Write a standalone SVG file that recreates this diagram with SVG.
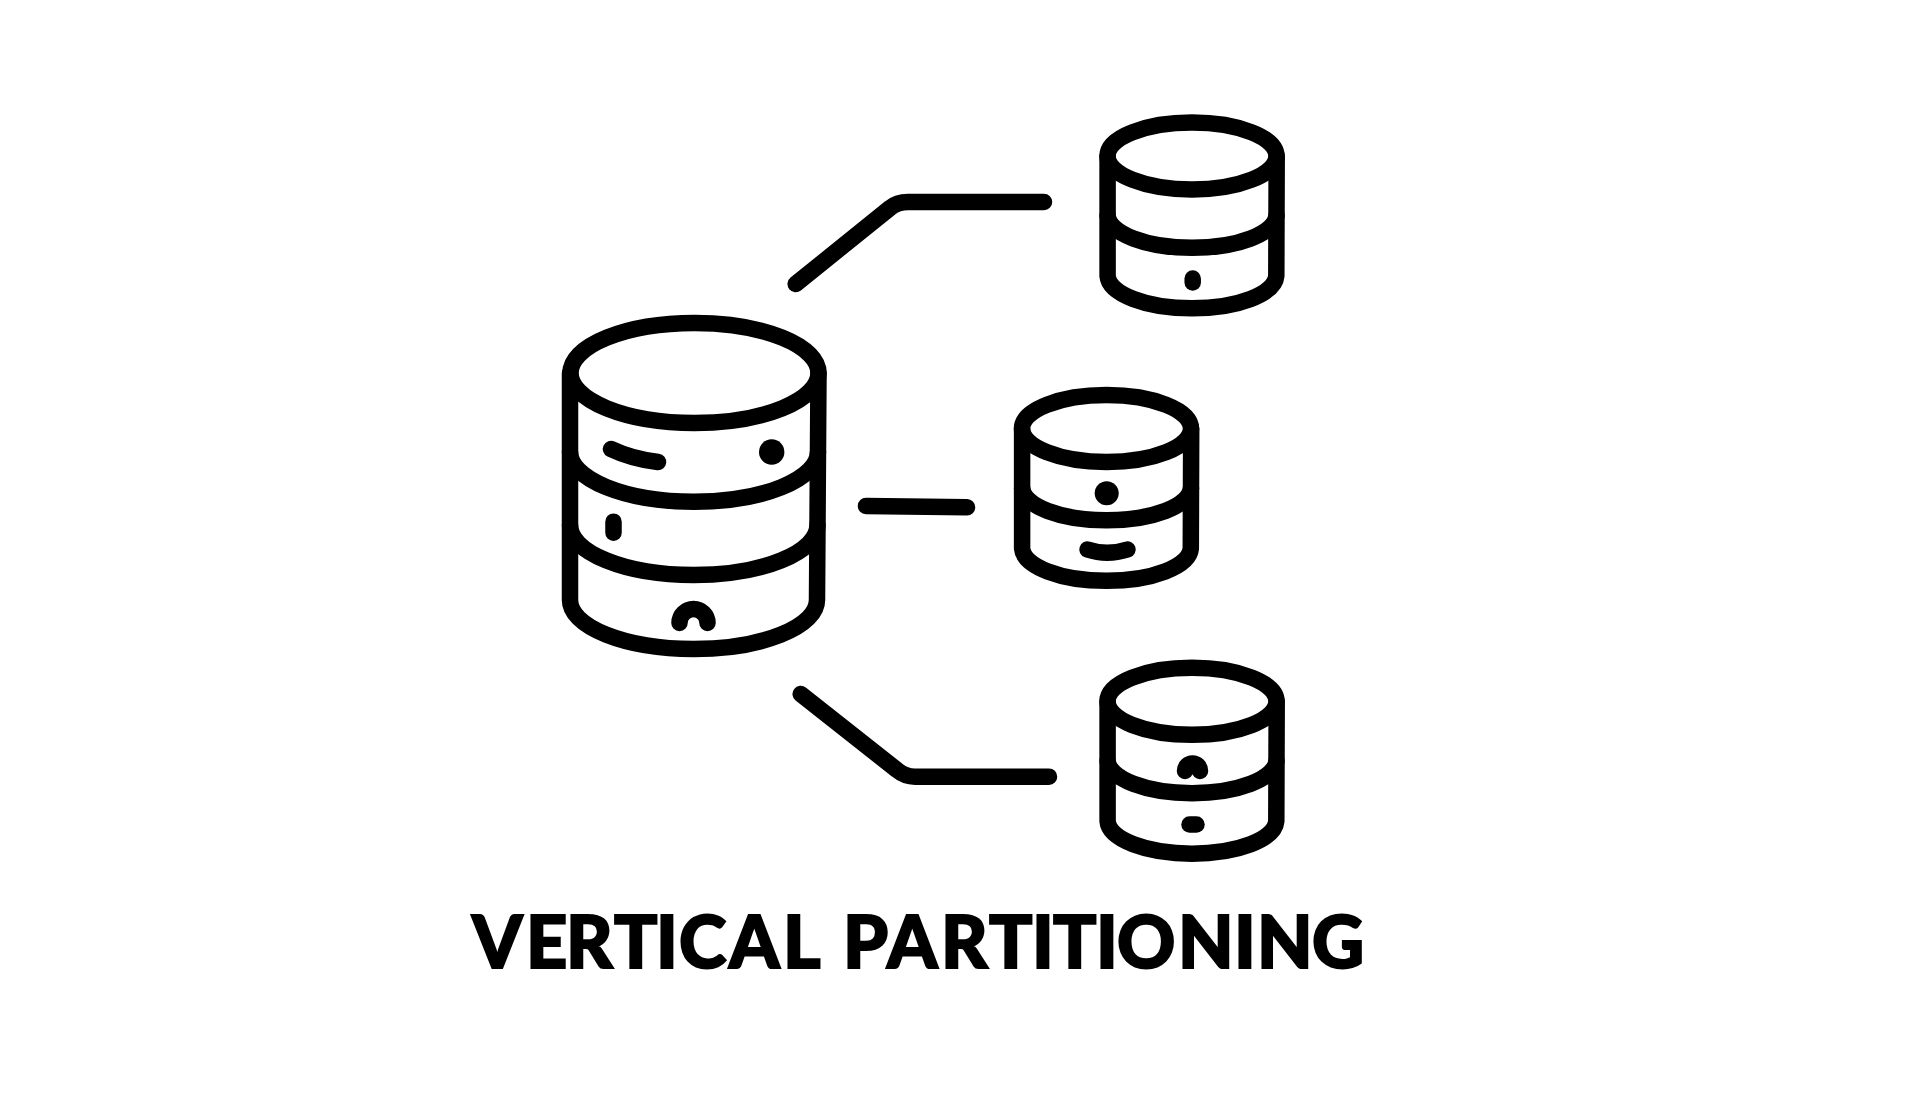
<svg xmlns="http://www.w3.org/2000/svg" width="1920" height="1100" viewBox="0 0 1920 1100">
<style>
.s{fill:none;stroke:#000;stroke-linecap:round;stroke-linejoin:round}
.b{stroke-width:16.5}
.t{font-family:Lato,"Liberation Sans",sans-serif;font-weight:900;font-size:72px;fill:#000;stroke:#000;stroke-width:2;stroke-linejoin:miter}
</style>
<defs>
<g id="small">
<ellipse class="s b" cx="1192" cy="156" rx="84.5" ry="33.5"/>
<path class="s b" d="M1107.6 156V276A84.4 33.500 0 0 0 1276.300 276L1276.700 156"/>
<path class="s b" d="M1107.6 215.500A84.500 33.500 0 0 0 1276.500 215.500"/>
</g>
</defs>
<rect width="1920" height="1100" fill="#fff"/>
<g id="connectors">
<path class="s b" d="M795.700 284L890 208Q897 202 908 202H1044"/>
<path class="s b" d="M866 506L967 507.300"/>
<path class="s b" d="M800.700 694L897 770Q905 776.700 915 776.700H1049"/>
</g>
<g id="db-main">
<ellipse class="s b" cx="694.5" cy="373" rx="124" ry="50"/>
<path class="s b" d="M570 373V600A123.500 49 0 0 0 817 600L818.500 373"/>
<path class="s b" d="M570 451.700A124 50 0 0 0 818 451.700"/>
<path class="s b" d="M570 525A123.700 50 0 0 0 817.500 525"/>
<path class="s b" d="M611 449Q632 459 658 462"/>
<circle cx="771.7" cy="452" r="12.7"/>
<path class="s b" d="M613.500 521.700V532.700"/>
<path class="s b" d="M679.500 623A14 14 0 0 1 707.500 623"/>
</g>
<g id="db-top">
<use href="#small"/>
<path class="s b" d="M1192.700 278.500V282.500"/>
</g>
<g id="db-middle">
<use href="#small" x="-85.5" y="272.500"/>
<circle cx="1106.700" cy="493.300" r="12"/>
<path class="s b" d="M1087.500 549.500Q1107 556 1127.500 549.500"/>
</g>
<g id="db-bottom">
<use href="#small" y="545.300"/>
<path class="s b" d="M1185 771A7.500 7.500 0 0 1 1200 771"/>
<path class="s b" d="M1189.500 824.500H1196.500"/>
</g>
<g id="title">
<text class="t" y="967.500" x="472 526 566 614 656 679 729 783 843 887 941 989 1032 1053 1096 1117 1178 1234 1257 1312">VERTICALPARTITIONING</text>
</g>
</svg>
